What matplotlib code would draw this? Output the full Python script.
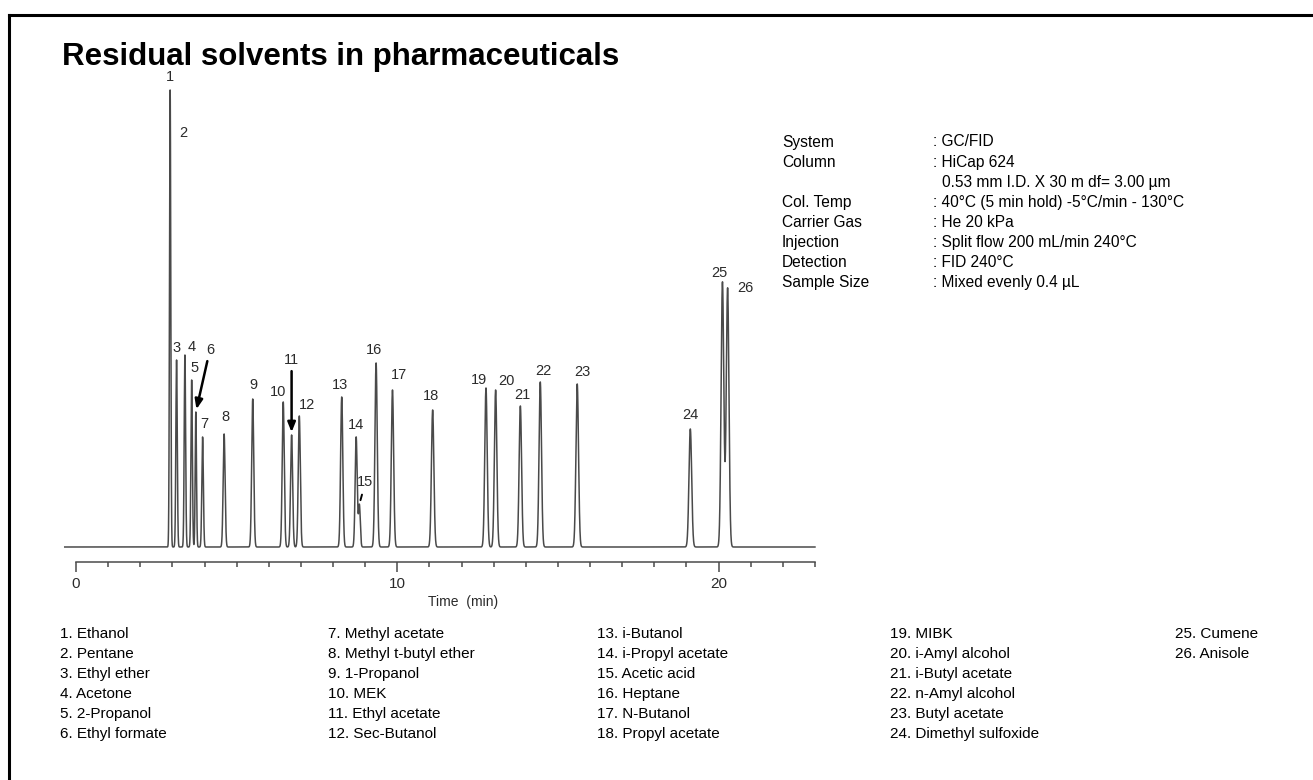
"""
Residual solvents in pharmaceuticals - GC/FID chromatogram (HiCap 624).
Peaks are drawn from retention time / height / width read off the scan.
"""

import numpy as np
import matplotlib.pyplot as plt
from matplotlib.lines import Line2D

plt.rcParams['font.family'] = ['Liberation Sans', 'DejaVu Sans']

W, H = 1313, 780          # output size in pixels
DPI = 100

# ── Peak table (time in min, height in detector units, sigma in min) ─────────
PEAK_NO  = list(range(1, 27))
RET_TIME = [2.93, 2.93, 3.13, 3.39, 3.60, 3.73, 3.94, 4.61, 5.50, 6.45,
            6.71, 6.95, 8.27, 8.72, 8.82, 9.34, 9.85, 11.10, 12.76, 13.06,
            13.83, 14.45, 15.60, 19.12, 20.12, 20.28]
HEIGHT   = [290, 167, 187, 192, 167, 135, 110, 113, 148, 145,
            112, 131, 150, 110, 42, 184, 157, 137, 159, 157,
            141, 165, 163, 118, 265, 259]
SIGMA    = [0.020, 0.020, 0.022, 0.022, 0.022, 0.020, 0.024, 0.030, 0.032, 0.032,
            0.032, 0.032, 0.034, 0.032, 0.028, 0.036, 0.036, 0.038, 0.038, 0.038,
            0.038, 0.038, 0.040, 0.042, 0.042, 0.042]

COMPOUNDS = ["Ethanol", "Pentane", "Ethyl ether", "Acetone", "2-Propanol",
             "Ethyl formate", "Methyl acetate", "Methyl t-butyl ether",
             "1-Propanol", "MEK", "Ethyl acetate", "Sec-Butanol", "i-Butanol",
             "i-Propyl acetate", "Acetic acid", "Heptane", "N-Butanol",
             "Propyl acetate", "MIBK", "i-Amyl alcohol", "i-Butyl acetate",
             "n-Amyl alcohol", "Butyl acetate", "Dimethyl sulfoxide", "Cumene",
             "Anisole"]

INFO_KEYS = ["System", "Column", "", "Col. Temp", "Carrier Gas", "Injection",
             "Detection", "Sample Size"]
INFO_VALS = [": GC/FID", ": HiCap 624", "0.53 mm I.D. X 30 m df= 3.00 µm",
             ": 40°C (5 min hold) -5°C/min - 130°C", ": He 20 kPa",
             ": Split flow 200 mL/min 240°C", ": FID 240°C",
             ": Mixed evenly 0.4 µL"]

MAJOR_TICKS = [0, 10, 20]

# ── Label placement (pixel offset of label centre from the peak apex) ────────
LABEL_OFFSET = {
    1: (0, 13), 2: (13, -43), 3: (0, 12), 4: (7, 8), 5: (3, 12),
    6: (14, 62), 7: (2, 13), 8: (1, 17), 9: (1, 14), 10: (-5, 10),
    11: (0, 75), 12: (8, 11), 13: (-2, 12), 14: (0, 12), 15: (6, 22),
    16: (-2, 13), 17: (7, 15), 18: (-2, 14), 19: (-7, 8), 20: (11, 9),
    21: (2, 11), 22: (3, 11), 23: (5, 12), 24: (0, 14), 25: (-3, 9),
    26: (18, 0),
}
ARROW_LABELS = {6: '-|>', 11: '-|>', 15: '-'}

LINE_COL = '#4a4a4a'
TEXT_COL = '#2b2b2b'


def fx(px):
    return px / W


def fy(py):
    return 1 - py / H


# ── Build trace ───────────────────────────────────────────────────────────────
t = np.arange(-0.35, 23.0, 0.001)
signal = np.zeros_like(t)
for rt, h, s in zip(RET_TIME, HEIGHT, SIGMA):
    signal += h * np.exp(-0.5 * ((t - rt) / s) ** 2)

fig = plt.figure(figsize=(W / DPI, H / DPI), dpi=DPI)

# outer frame (only left and top edges fall inside the picture)
fig.add_artist(Line2D([fx(9), fx(9)], [fy(15), 0], color='black', lw=2.2))
fig.add_artist(Line2D([fx(9), 1], [fy(15), fy(15)], color='black', lw=2.2))

fig.text(fx(62), fy(65), "Residual solvents in pharmaceuticals",
         fontsize=22.5, fontweight='bold', va='baseline', ha='left')

# ── Chromatogram axes ─────────────────────────────────────────────────────────
px_per_min = 32.13
x0_px, base_px = 76, 547
xmin, xmax = -0.4, 23.3
ymin, ymax = -40, 470
ax = fig.add_axes([fx(x0_px + xmin * px_per_min),
                   fy(base_px - ymin),
                   (xmax - xmin) * px_per_min / W,
                   (ymax - ymin) / H])
ax.set_xlim(xmin, xmax)
ax.set_ylim(ymin, ymax)
ax.patch.set_alpha(0)

ax.plot(t, signal, color=LINE_COL, lw=1.1)

for sp in ['top', 'right', 'left']:
    ax.spines[sp].set_visible(False)
ax.spines['bottom'].set_position(('data', -15))
ax.spines['bottom'].set_bounds(0, 23)
ax.spines['bottom'].set_color(LINE_COL)
ax.spines['bottom'].set_linewidth(1.1)
ax.set_yticks([])
ax.set_xticks(MAJOR_TICKS)
ax.set_xticks(np.arange(0, 24, 1), minor=True)
ax.tick_params(axis='x', which='major', length=7, width=1.1, color=LINE_COL,
               labelsize=11, labelcolor=TEXT_COL, pad=4)
ax.tick_params(axis='x', which='minor', length=3.5, width=1.1, color=LINE_COL)

fig.text(fx(463), fy(602), "Time  (min)", fontsize=10, color=TEXT_COL,
         ha='center', va='center')

# peak number labels
for no, rt in zip(PEAK_NO, RET_TIME):
    apex = np.interp(rt, t, signal)
    dx, dy = LABEL_OFFSET[no]
    style = ARROW_LABELS.get(no)
    props = None
    if style == '-|>':
        props = dict(arrowstyle='-|>,head_length=0.55,head_width=0.22',
                     color='black', lw=1.8, shrinkA=1, shrinkB=2)
    elif style == '-':
        props = dict(arrowstyle='-', color='black', lw=1.4, shrinkA=2,
                     shrinkB=3)
    ax.annotate(str(no), xy=(rt, apex), xytext=(dx, dy),
                textcoords='offset pixels', ha='center', va='center',
                fontsize=10.5, color=TEXT_COL, arrowprops=props)

# ── Conditions block ─────────────────────────────────────────────────────────
for i, (k, v) in enumerate(zip(INFO_KEYS, INFO_VALS)):
    y = fy(142 + i * 20.1)
    fig.text(fx(782), y, k, fontsize=11.2, va='center', ha='left')
    vx = 933 if v.startswith(':') else 942
    fig.text(fx(vx), y, v, fontsize=11.2, va='center', ha='left')

# ── Peak legend ──────────────────────────────────────────────────────────────
col_x = [60, 328, 597, 890, 1175]
for i, name in enumerate(COMPOUNDS):
    col, row = divmod(i, 6)
    fig.text(fx(col_x[col]), fy(634 + row * 20), f"{i + 1}. {name}",
             fontsize=11, va='center', ha='left')

fig.savefig("out.png", dpi=DPI)
